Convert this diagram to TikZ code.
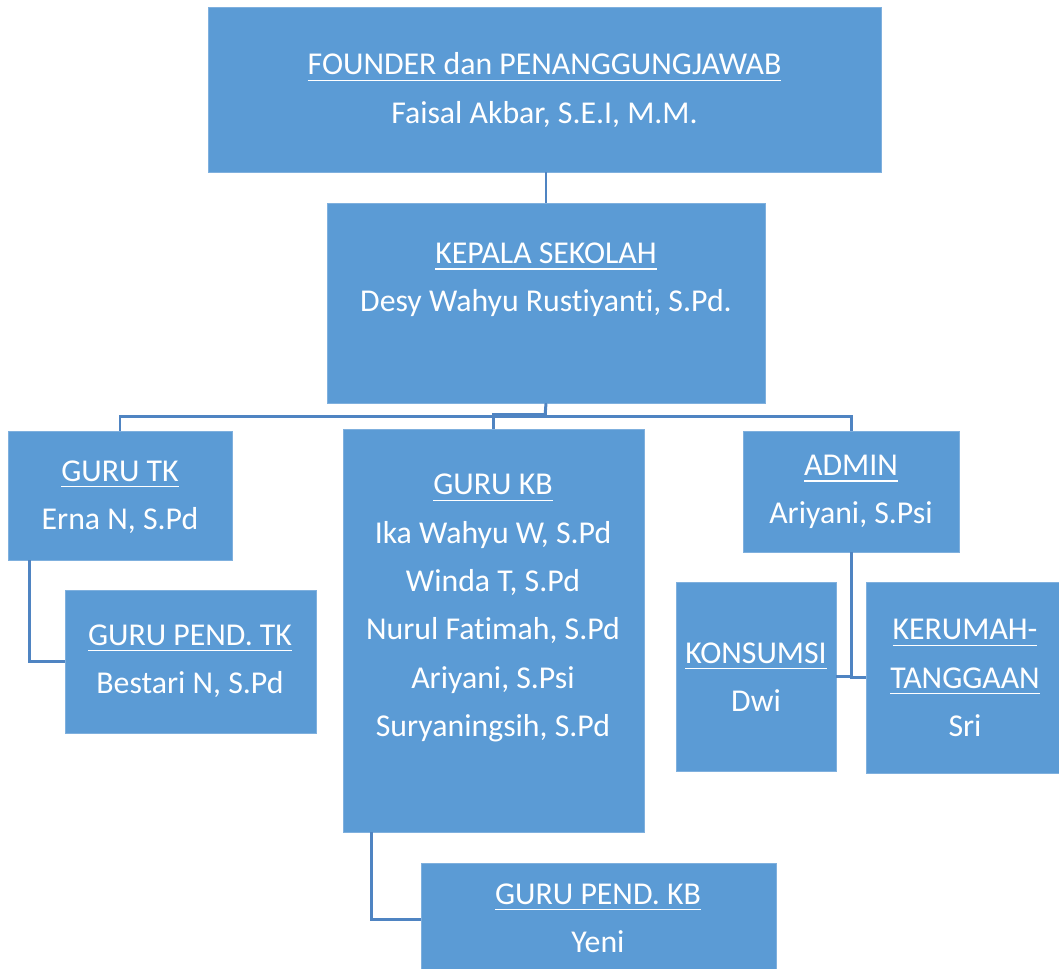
\documentclass[tikz,border=0pt]{standalone}
\usepackage{fontspec}
\setmainfont[Ligatures=NoCommon]{Carlito}
\usetikzlibrary{fit,calc}
\definecolor{biru}{HTML}{5B9BD5}
\definecolor{tepi}{HTML}{7FB0DE}
\definecolor{garisbiru}{HTML}{4F84C2}
\newcommand{\jabatan}[1]{\setbox0\hbox{#1}\rlap{\rule[-3.6pt]{\wd0}{0.9pt}}\box0}
\begin{document}
\begin{tikzpicture}[x=0.02cm, y=-0.02cm,
		kotak/.style={draw=tepi, line width=0.5pt, fill=biru, inner sep=0pt, rectangle},
		teks/.style={text=white, align=center, font=\fontsize{18.1}{27.5}\selectfont},
		hubung/.style={draw=garisbiru, line width=1.7pt}]
		\useasboundingbox (0,0) rectangle (1059,968);
		
		% Kotak-kotak
		\node[kotak, fit={(208,7) (881,172)}] (fnd) {};
		\node[kotak, fit={(327,203) (765,403)}] (kep) {};
		\node[kotak, fit={(8,431) (232,560)}] (tk) {};
		\node[kotak, fit={(65,590) (316,733)}] (ptk) {};
		\node[kotak, fit={(343,429) (644,832)}] (kb) {};
		\node[kotak, fit={(421,863) (776,975)}] (pkb) {};
		\node[kotak, fit={(743,431) (959,552)}] (adm) {};
		\node[kotak, fit={(676,582) (836,771)}] (kons) {};
		\node[kotak, fit={(866,582) (1065,773)}] (ker) {};
		
		% Tulisan
		\node[teks] (fndT) at (544.5,90) {\jabatan{FOUNDER dan PENANGGUNGJAWAB}\\Faisal Akbar, S.E.I, M.M.};
		\node[teks] (kepT) at (546,280) {\jabatan{KEPALA SEKOLAH}\\Desy Wahyu Rustiyanti, S.Pd.};
		\node[teks] (tkT) at (120,497) {\jabatan{GURU TK}\\Erna N, S.Pd};
		\node[teks] (ptkT) at (190,661) {\jabatan{GURU PEND. TK}\\Bestari N, S.Pd};
		\node[teks] (kbT) at (493,608) {\jabatan{GURU KB}\\Ika Wahyu W, S.Pd\\Winda T, S.Pd\\Nurul Fatimah, S.Pd\\Ariyani, S.Psi\\Suryaningsih, S.Pd};
		\node[teks] (pkbT) at (598,918) {\jabatan{GURU PEND. KB}\\Yeni};
		\node[teks] (admT) at (851,492) {\jabatan{ADMIN}\\Ariyani, S.Psi};
		\node[teks] (konsT) at (756,677) {\jabatan{KONSUMSI}\\Dwi};
		\node[teks] (kerT) at (965,678) {\jabatan{KERUMAH-}\\\jabatan{TANGGAAN}\\Sri};
		
		% Garis penghubung
		\coordinate (bus) at (545,416);
		\draw[hubung] (fnd.south -| kep.north) -- (kep.north);
		\draw[hubung] (kep.south) -- (bus);
		\draw[hubung] (tk.north) |- (bus) -| (adm.north);
		\draw[hubung] (kep.south) -- ++(0,11) -| (kb.north);
		\draw[hubung] ($(tk.south west)+(22,0)$) |- (ptk.west);
		\draw[hubung] ($(kb.south west)+(29,0)$) |- (pkb.west);
		\draw[hubung] (adm.south) |- (kons.east);
		\draw[hubung] (adm.south) |- (ker.west);
\end{tikzpicture}
\end{document}
